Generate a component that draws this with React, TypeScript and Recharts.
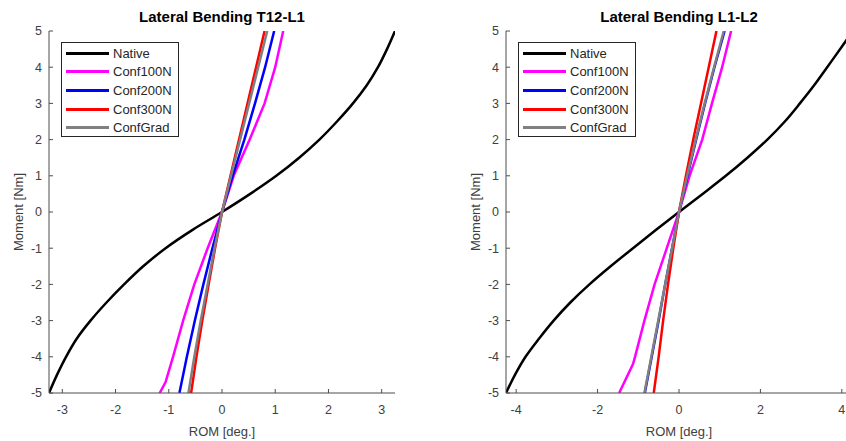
import { Legend, Line, LineChart, XAxis, YAxis } from "recharts";

const FONT = '"Liberation Sans", Arial, Helvetica, sans-serif';
const AXIS_COLOR = "#4d4d4d";
const TICK_COLOR = "#404040";
const TEXT_COLOR = "#262626";

const W = 420;
const H = 441;

const momentTicks = [-5, -4, -3, -2, -1, 0, 1, 2, 3, 4, 5];

// T12-L1: ROM [deg.] per applied moment [Nm]
const momentT12 = [-5, -4.7, -4.5, -4, -3.5, -3, -2.5, -2, -1.5, -1, -0.5, 0, 0.5, 1, 1.5, 2, 2.5, 3, 3.5, 4, 4.5, 5];
const nativeT12 = [-3.25, null, -3.1, -2.93, -2.73, -2.47, -2.17, -1.84, -1.48, -1.06, -0.56, 0, 0.53, 1.02, 1.45, 1.83, 2.16, 2.46, 2.72, 2.93, 3.1, 3.25];
const conf100T12 = [-1.17, -1.06, null, -0.92, null, -0.73, null, -0.52, null, -0.27, null, 0, null, 0.22, null, 0.52, null, 0.8, null, 1.0, null, 1.15];
const conf200T12 = [-0.8, null, null, -0.66, null, -0.51, null, -0.35, null, -0.18, null, 0, null, 0.2, null, 0.42, null, 0.62, null, 0.81, null, 0.98];
const conf300T12 = [-0.58, null, null, -0.48, null, -0.37, null, -0.25, null, -0.13, null, 0, null, 0.16, null, 0.32, null, 0.48, null, 0.64, null, 0.8];
const gradT12 = [-0.63, null, null, -0.52, null, -0.4, null, -0.27, null, -0.14, null, 0, null, 0.17, null, 0.34, null, 0.51, null, 0.68, null, 0.85];
const romTicksT12 = [-3, -2, -1, 0, 1, 2, 3];

// L1-L2
const momentL1 = [-5, -4.5, -4.2, -4, -3.5, -3, -2.5, -2, -1.5, -1, -0.5, 0, 0.5, 1, 1.5, 2, 2.5, 3, 3.5, 4, 4.5, 5];
const nativeL1 = [-4.25, -4.03, null, -3.77, -3.44, -3.08, -2.67, -2.2, -1.68, -1.13, -0.57, 0, 0.58, 1.15, 1.68, 2.17, 2.6, 2.97, 3.32, 3.64, 3.96, 4.27];
const conf100L1 = [-1.47, null, -1.13, -1.08, null, -0.85, null, -0.6, null, -0.3, null, 0, null, 0.26, null, 0.57, null, 0.81, null, 1.06, null, 1.28];
const conf200L1 = [-0.84, null, null, -0.67, null, -0.5, null, -0.34, null, -0.17, null, 0, null, 0.21, null, 0.42, null, 0.64, null, 0.87, null, 1.12];
const conf300L1 = [-0.62, null, null, -0.5, null, -0.39, null, -0.27, null, -0.14, null, 0, null, 0.17, null, 0.35, null, 0.54, null, 0.73, null, 0.92];
const gradL1 = [-0.85, null, null, -0.68, null, -0.51, null, -0.34, null, -0.17, null, 0, null, 0.2, null, 0.41, null, 0.63, null, 0.86, null, 1.1];
const romTicksL1 = [-4, -2, 0, 2, 4];

const seriesNames = ["Native", "Conf100N", "Conf200N", "Conf300N", "ConfGrad"];
const seriesKeys = ["native", "c100", "c200", "c300", "grad"];
const seriesColors = ["#000000", "#ff00ff", "#0000ff", "#ff0000", "#808080"];

const buildRows = (moments: number[], cols: (number | null)[][]) =>
  moments.map((m, i) => {
    const row: Record<string, number | null> = { m };
    seriesKeys.forEach((k, j) => (row[k] = cols[j][i]));
    return row;
  });

const rowsT12 = buildRows(momentT12, [nativeT12, conf100T12, conf200T12, conf300T12, gradT12]);
const rowsL1 = buildRows(momentL1, [nativeL1, conf100L1, conf200L1, conf300L1, gradL1]);

const renderLegend = (props: any) => {
  // keep the plotting order instead of the alphabetical default
  const items = [...(props.payload ?? [])].sort(
    (a: any, b: any) => seriesNames.indexOf(a.value) - seriesNames.indexOf(b.value)
  );
  return (
    <div
      style={{
        boxSizing: "border-box",
        width: 118,
        height: 95,
        border: `1px solid ${TEXT_COLOR}`,
        background: "#fff",
        paddingTop: 1,
        fontFamily: FONT,
        fontSize: 13,
        color: TEXT_COLOR,
      }}
    >
      {items.map((item: any) => (
        <div key={item.value} style={{ display: "flex", alignItems: "center", height: 18.6 }}>
          <span style={{ display: "inline-block", marginLeft: 4, width: 43, height: 3, background: item.color }} />
          <span style={{ marginLeft: 4, whiteSpace: "nowrap" }}>{item.value}</span>
        </div>
      ))}
    </div>
  );
};

// MATLAB-style ticks: short marks pointing into the plot box, label outside
const TICK_LEN = 4;
const X_GAP = 12.5;
const Y_GAP = 7;

const BottomTick = (props: any) => {
  const { x, y, payload } = props;
  const axisY = y - X_GAP;
  return (
    <g>
      <line x1={x} x2={x} y1={axisY} y2={axisY - TICK_LEN} stroke={AXIS_COLOR} />
      <text x={x} y={y} dy="0.71em" textAnchor="middle" fontSize={12.5} fontFamily={FONT} fill={TICK_COLOR}>
        {payload.value}
      </text>
    </g>
  );
};

const LeftTick = (props: any) => {
  const { x, y, payload } = props;
  const axisX = x + Y_GAP;
  return (
    <g>
      <line x1={axisX} x2={axisX + TICK_LEN} y1={y} y2={y} stroke={AXIS_COLOR} />
      <text x={x} y={y} dy="0.355em" textAnchor="end" fontSize={12.5} fontFamily={FONT} fill={TICK_COLOR}>
        {payload.value}
      </text>
    </g>
  );
};

const TopTick = (props: any) => (
  <line x1={props.x} x2={props.x} y1={props.y} y2={props.y + TICK_LEN} stroke={AXIS_COLOR} />
);

const RightTick = (props: any) => (
  <line x1={props.x} x2={props.x - TICK_LEN} y1={props.y} y2={props.y} stroke={AXIS_COLOR} />
);

function Panel({
  left,
  title,
  rows,
  xDomain,
  xTicks,
}: {
  left: number;
  title: string;
  rows: Record<string, number | null>[];
  xDomain: [number, number];
  xTicks: number[];
}) {
  return (
    <div style={{ position: "absolute", left, top: 0, width: W, height: H }}>
      <LineChart
        layout="vertical"
        width={W}
        height={H}
        data={rows}
        margin={{ top: 31, right: 25, bottom: 18, left: 19 }}
      >
        <XAxis
          type="number"
          domain={xDomain}
          ticks={xTicks}
          allowDataOverflow
          height={30}
          stroke={AXIS_COLOR}
          tickLine={false}
          tickSize={0}
          tickMargin={X_GAP}
          tick={BottomTick}
          interval={0}
        />
        <XAxis
          xAxisId="top"
          orientation="top"
          type="number"
          domain={xDomain}
          ticks={xTicks}
          allowDataOverflow
          height={0}
          stroke={AXIS_COLOR}
          tickLine={false}
          tickSize={0}
          tickMargin={0}
          tick={TopTick}
          interval={0}
        />
        <YAxis
          type="number"
          dataKey="m"
          domain={[-5, 5]}
          ticks={momentTicks}
          reversed
          allowDataOverflow
          width={30}
          stroke={AXIS_COLOR}
          tickLine={false}
          tickSize={0}
          tickMargin={Y_GAP}
          tick={LeftTick}
          interval={0}
        />
        <YAxis
          yAxisId="right"
          orientation="right"
          type="number"
          dataKey="m"
          domain={[-5, 5]}
          ticks={momentTicks}
          reversed
          allowDataOverflow
          width={0}
          stroke={AXIS_COLOR}
          tickLine={false}
          tickSize={0}
          tickMargin={0}
          tick={RightTick}
          interval={0}
        />
        {seriesKeys.map((k, i) => (
          <Line
            key={k}
            dataKey={k}
            name={seriesNames[i]}
            type={i === 0 ? "monotone" : "linear"}
            stroke={seriesColors[i]}
            strokeWidth={2.5}
            dot={false}
            activeDot={false}
            connectNulls
            isAnimationActive={false}
          />
        ))}
        <Legend
          verticalAlign="middle"
          align="center"
          content={renderLegend}
          wrapperStyle={{ top: 42, left: 61, width: 118, height: 95 }}
        />
      </LineChart>
      <svg
        width={W}
        height={H}
        style={{ position: "absolute", left: 0, top: 0, pointerEvents: "none", fontFamily: FONT }}
      >
        <text x={222} y={21.7} textAnchor="middle" fontSize={15} fontWeight="bold" fill="#000">
          {title}
        </text>
        <text x={222} y={436} textAnchor="middle" fontSize={13} fill={TICK_COLOR}>
          ROM [deg.]
        </text>
        <text transform="translate(22.5,212) rotate(-90)" textAnchor="middle" fontSize={13} fill={TICK_COLOR}>
          Moment [Nm]
        </text>
      </svg>
    </div>
  );
}

export default function App() {
  return (
    <div
      style={{
        position: "absolute",
        left: 0,
        top: 0,
        width: 846,
        height: 441,
        overflow: "hidden",
        background: "#fff",
      }}
    >
      <Panel left={0} title="Lateral Bending T12-L1" rows={rowsT12} xDomain={[-3.25, 3.25]} xTicks={romTicksT12} />
      <Panel left={457} title="Lateral Bending L1-L2" rows={rowsL1} xDomain={[-4.25, 4.25]} xTicks={romTicksL1} />
    </div>
  );
}
